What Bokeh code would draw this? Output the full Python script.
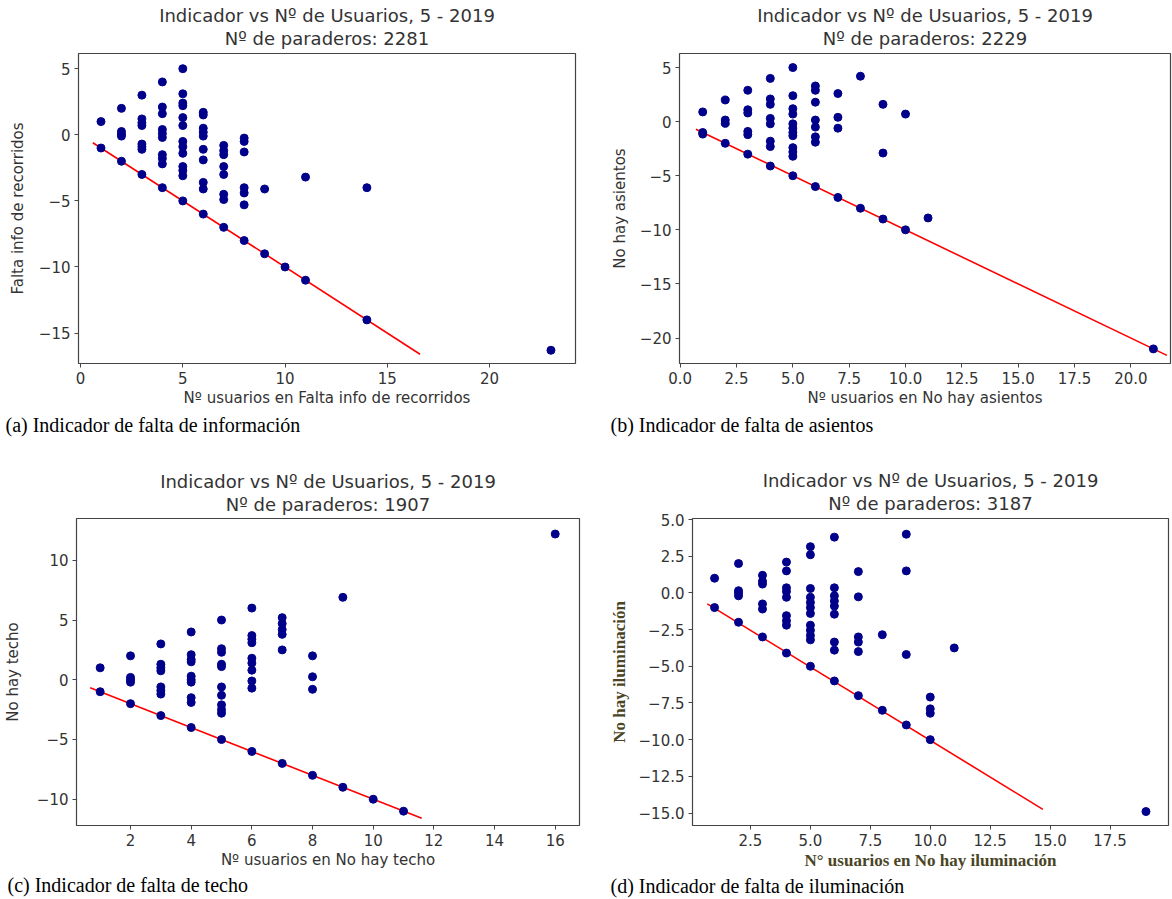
from bokeh.plotting import figure
from bokeh.models import Range1d, FixedTicker, Title
from bokeh.layouts import row, column
from bokeh.embed import file_html
from bokeh.resources import INLINE

# ---------------- data ----------------
# (a) Falta info de recorridos
a_users = [1, 1,
           2, 2, 2, 2, 2,
           3, 3, 3, 3, 3, 3, 3, 3,
           4, 4, 4, 4, 4, 4, 4, 4, 4, 4,
           5, 5, 5, 5, 5, 5, 5, 5, 5, 5, 5, 5, 5,
           6, 6, 6, 6, 6, 6, 6, 6, 6, 6,
           7, 7, 7, 7, 7, 7, 7, 7,
           8, 8, 8, 8, 8, 8, 8,
           9, 9, 10, 11, 11, 14, 14, 23]
a_indicator = [1, -1,
               2, 0.25, 0.05, -0.1, -2,
               3, 1.2, 0.9, 0.7, -0.7, -0.9, -1.1, -3,
               4, 2.1, 1.6, 0.4, 0.1, -0.2, -1.5, -1.8, -2.2, -4,
               5, 3.1, 2.4, 2.2, 1.3, 0.7, -0.5, -0.9, -1.4, -2.4, -2.7, -3.1, -5,
               1.7, 1.5, 0.5, 0.2, -0.1, -1.1, -1.9, -3.6, -4.1, -6,
               -0.8, -1.2, -1.5, -2.4, -3.0, -4.5, -4.9, -7,
               -0.25, -0.5, -1.3, -4.0, -4.4, -5.3, -8,
               -4.1, -9, -10, -3.2, -11, -4, -14, -16.3]
a_line_x = [0.6, 16.6]
a_line_y = [-0.6, -16.6]
a_xticks = [0, 5, 10, 15, 20]
a_xlabels = ["0", "5", "10", "15", "20"]
a_yticks = [5, 0, -5, -10, -15]
a_ylabels = ["5", "0", "\u22125", "\u221210", "\u221215"]

# (b) No hay asientos
b_users = [1, 1, 1,
           2, 2, 2, 2,
           3, 3, 3, 3, 3, 3,
           4, 4, 4, 4, 4, 4, 4, 4,
           5, 5, 5, 5, 5, 5, 5, 5, 5, 5, 5, 5,
           6, 6, 6, 6, 6, 6, 6, 6,
           7, 7, 7, 7,
           8, 8,
           9, 9, 9,
           10, 10, 11, 21]
b_indicator = [0.9, -1.0, -1.15,
               2, 0.15, -0.15, -2,
               2.9, 1.1, 0.8, -0.9, -1.2, -3,
               4, 2.1, 1.6, 0.3, -0.2, -1.8, -2.3, -4.1,
               5, 2.4, 1.2, 0.7, -0.2, -0.6, -1.0, -1.3, -2.4, -2.8, -3.2, -5,
               3.3, 2.9, 1.8, 0.15, -0.5, -1.4, -1.9, -6,
               2.6, 0.4, -0.6, -7,
               4.2, -8,
               1.6, -2.9, -9,
               0.7, -10, -8.9, -21]
b_line_x = [0.7, 21.6]
b_line_y = [-0.7, -21.6]
b_xticks = [0, 2.5, 5, 7.5, 10, 12.5, 15, 17.5, 20]
b_xlabels = ["0.0", "2.5", "5.0", "7.5", "10.0", "12.5", "15.0", "17.5", "20.0"]
b_yticks = [5, 0, -5, -10, -15, -20]
b_ylabels = ["5", "0", "\u22125", "\u221210", "\u221215", "\u221220"]

# (c) No hay techo
c_users = [1, 1,
           2, 2, 2, 2, 2,
           3, 3, 3, 3, 3, 3, 3, 3,
           4, 4, 4, 4, 4, 4, 4, 4, 4, 4,
           5, 5, 5, 5, 5, 5, 5, 5, 5, 5, 5,
           6, 6, 6, 6, 6, 6, 6, 6, 6, 6,
           7, 7, 7, 7, 7, 7,
           8, 8, 8, 8,
           9, 9, 10, 11, 16]
c_indicator = [1, -1,
               2, 0.2, 0, -0.2, -2,
               3, 1.3, 1.0, 0.75, -0.6, -0.9, -1.2, -3,
               4, 2.1, 1.7, 1.5, 0.3, 0, -0.2, -1.5, -1.9, -4,
               5, 2.6, 2.3, 1.3, 1.1, -0.6, -1.3, -2.1, -2.5, -2.8, -5,
               6, 3.7, 3.4, 3.1, 1.8, 1.4, 0.8, -0.1, -0.7, -6,
               5.2, 4.7, 4.2, 3.8, 2.5, -7,
               2, 0.25, -0.8, -8,
               6.9, -9, -10, -11, 12.2]
c_line_x = [0.67, 11.6]
c_line_y = [-0.67, -11.6]
c_xticks = [2, 4, 6, 8, 10, 12, 14, 16]
c_xlabels = ["2", "4", "6", "8", "10", "12", "14", "16"]
c_yticks = [10, 5, 0, -5, -10]
c_ylabels = ["10", "5", "0", "\u22125", "\u221210"]

# (d) No hay iluminación
d_users = [1, 1,
           2, 2, 2, 2, 2,
           3, 3, 3, 3, 3, 3,
           4, 4, 4, 4, 4, 4, 4, 4, 4,
           5, 5, 5, 5, 5, 5, 5, 5, 5, 5, 5, 5,
           6, 6, 6, 6, 6, 6, 6, 6, 6,
           7, 7, 7, 7, 7, 7,
           8, 8,
           9, 9, 9, 9,
           10, 10, 10, 10,
           11, 19]
d_indicator = [1, -1,
               2, 0.15, 0, -0.2, -2,
               1.2, 0.8, 0.6, -0.75, -1.1, -3,
               2.1, 1.5, 0.35, 0.1, -0.3, -1.55, -1.9, -2.2, -4.1,
               3.15, 2.6, 0.3, -0.3, -0.65, -1.0, -1.4, -2.2, -2.55, -2.9, -3.2, -5,
               3.8, 0.35, -0.2, -0.55, -0.9, -1.45, -3.35, -3.9, -6,
               1.45, -0.27, -3.0, -3.35, -4.0, -7,
               -2.85, -8,
               4.0, 1.5, -4.2, -9,
               -7.1, -7.9, -8.2, -10,
               -3.75, -14.9]
d_line_x = [0.7, 14.7]
d_line_y = [-0.75, -14.75]
d_xticks = [2.5, 5, 7.5, 10, 12.5, 15, 17.5]
d_xlabels = ["2.5", "5.0", "7.5", "10.0", "12.5", "15.0", "17.5"]
d_yticks = [5, 2.5, 0, -2.5, -5, -7.5, -10, -12.5, -15]
d_ylabels = ["5.0", "2.5", "0.0", "\u22122.5", "\u22125.0", "\u22127.5", "\u221210.0", "\u221212.5", "\u221215.0"]

TITLE1 = "Indicador vs Nº de Usuarios, 5 - 2019"
SANS = "DejaVu Sans"
SERIF = "Liberation Serif"
TXT = "#333333"


def panel(w, h, borders, xr, yr, xs, ys, lx, ly, xt, xl, yt, yl,
          n_paraderos, xlabel, ylabel, caption, ylab_standoff,
          gap_size, cap_offset, cap_standoff,
          label_font=SANS, label_style="normal", label_color=TXT, label_size="15px"):
    bl, br, bt, bb = borders
    p = figure(width=w, height=h, output_backend="svg", toolbar_location=None,
               x_range=Range1d(*xr), y_range=Range1d(*yr),
               min_border_left=bl, min_border_right=br,
               min_border_top=bt, min_border_bottom=bb)
    p.grid.visible = False
    p.outline_line_color = "#444444"
    p.outline_line_width = 1.2
    p.background_fill_color = "white"
    p.border_fill_color = "white"

    p.line(lx, ly, line_color="#ff0000", line_width=1.6)
    p.scatter(xs, ys, size=8, fill_color="#00008B", line_color="#00008B")

    for ax, ticks, labels in ((p.xaxis[0], xt, xl), (p.yaxis[0], yt, yl)):
        ax.ticker = FixedTicker(ticks=ticks)
        ax.major_label_overrides = {t: s for t, s in zip(ticks, labels)}
        ax.minor_tick_line_color = None
        ax.major_tick_in = 0
        ax.major_tick_out = 4
        ax.major_tick_line_color = "#444444"
        ax.axis_line_color = None
        ax.major_label_text_font = SANS
        ax.major_label_text_font_size = "15px"
        ax.major_label_text_color = TXT
        ax.major_label_standoff = 4
        ax.axis_label_text_font = label_font
        ax.axis_label_text_font_style = label_style
        ax.axis_label_text_color = label_color
        ax.axis_label_text_font_size = label_size

    p.xaxis.axis_label = xlabel
    p.xaxis.axis_label_standoff = 2
    p.yaxis.axis_label = ylabel
    p.yaxis.axis_label_standoff = ylab_standoff

    # small blank strip between frame and the two title lines
    p.add_layout(Title(text=" ", text_font=SANS, text_font_size=gap_size,
                       standoff=0), "above")
    p.add_layout(Title(text=f"Nº de paraderos: {n_paraderos}", align="center",
                       text_font=SANS, text_font_size="18px", text_font_style="normal",
                       text_color=TXT, standoff=0), "above")
    p.add_layout(Title(text=TITLE1, align="center",
                       text_font=SANS, text_font_size="18px", text_font_style="normal",
                       text_color=TXT, standoff=0), "above")
    p.add_layout(Title(text=caption, align="left", offset=cap_offset,
                       text_font=SERIF, text_font_size="20px", text_font_style="normal",
                       text_color="#000000", standoff=cap_standoff), "below")
    return p


pa = panel(598, 450, (78, 23, 53, 87), (-0.1, 24.2), (-17.3, 6.15),
           a_users, a_indicator, a_line_x, a_line_y,
           a_xticks, a_xlabels, a_yticks, a_ylabels, 2281,
           "Nº usuarios en Falta info de recorridos", "Falta info de recorridos",
           "(a) Indicador de falta de información", 9,
           gap_size="3px", cap_offset=-73, cap_standoff=4)

pb = panel(574, 450, (81, 2, 51, 85), (-0.03, 21.76), (-22.35, 6.3),
           b_users, b_indicator, b_line_x, b_line_y,
           b_xticks, b_xlabels, b_yticks, b_ylabels, 2229,
           "Nº usuarios en No hay asientos", "No hay asientos",
           "(b) Indicador de falta de asientos", 8,
           gap_size="3px", cap_offset=-69, cap_standoff=4)

pc = panel(598, 449, (74, 19, 64, 74), (0.22, 16.8), (-12.2, 13.5),
           c_users, c_indicator, c_line_x, c_line_y,
           c_xticks, c_xlabels, c_yticks, c_ylabels, 1907,
           "Nº usuarios en No hay techo", "No hay techo",
           "(c) Indicador de falta de techo", 12,
           gap_size="2px", cap_offset=-69, cap_standoff=0)

pd_ = panel(574, 449, (94, 4, 68, 72), (0.08, 19.94), (-15.85, 5.07),
            d_users, d_indicator, d_line_x, d_line_y,
            d_xticks, d_xlabels, d_yticks, d_ylabels, 3187,
            "N° usuarios en No hay iluminación", "No hay iluminación",
            "(d) Indicador de falta de iluminación", 7,
            gap_size="3px", cap_offset=-82, cap_standoff=0,
            label_font=SERIF, label_style="bold", label_color="#4a4526",
            label_size="17px")

layout = column(row(pa, pb), row(pc, pd_))

with open("out.html", "w") as f:
    f.write(file_html(layout, INLINE))
